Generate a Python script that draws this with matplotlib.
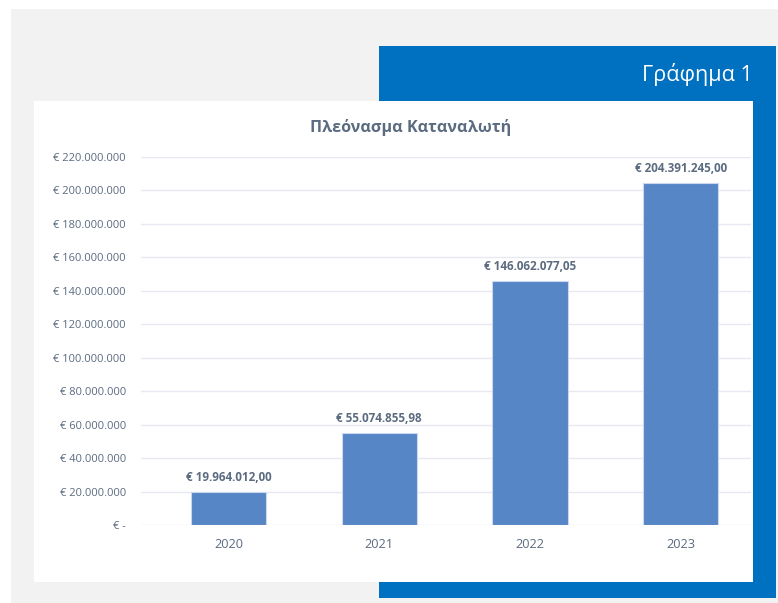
import matplotlib.pyplot as plt
from matplotlib.patches import Rectangle
from matplotlib.ticker import FuncFormatter

plt.rcParams["font.family"] = ["Open Sans", "DejaVu Sans"]

# Consumer surplus per year (EUR)
years = ["2020", "2021", "2022", "2023"]
values = [19964012.00, 55074855.98, 146062077.05, 204391245.00]
value_labels = ["€ 19.964.012,00", "€ 55.074.855,98",
                "€ 146.062.077,05", "€ 204.391.245,00"]
y_ticks = list(range(0, 220000001, 20000000))

INK = "#5b6b80"
BLUE = "#0070c0"
BAR = "#5686c6"

W, H = 778, 603
fig = plt.figure(figsize=(W / 100, H / 100), dpi=100)


def px(x0, y0, x1, y1):
    # pixel box -> figure fraction rect
    return (x0 / W, 1 - y1 / H, (x1 - x0) / W, (y1 - y0) / H)


# page background, blue frame and white chart panel
for box, col in [((11, 9, 778, 603), "#f2f2f2"),
                 ((379, 46, 776, 598), BLUE),
                 ((34, 101, 753, 582), "white")]:
    x, y, w, h = px(*box)
    fig.patches.append(Rectangle((x, y), w, h, transform=fig.transFigure,
                                 facecolor=col, edgecolor="none", zorder=-5))

fig.text(753 / W, 1 - 75 / H, "Γράφημα 1", ha="right", va="center",
         fontsize=15.5, color="white")
fig.text(411 / W, 1 - 127 / H, "Πλεόνασμα Καταναλωτή", ha="center",
         va="center", fontsize=11.6, weight="bold", color=INK)

ax = fig.add_axes(px(141, 157, 751, 525.3))
ax.set_zorder(2)
ax.set_facecolor("none")

xs = range(len(years))
ax.bar(xs, values, width=0.5, color=BAR, edgecolor="#cbd8ee",
       linewidth=0.8, zorder=2)

for x, v, lab in zip(xs, values, value_labels):
    ax.annotate(lab, (x, v), xytext=(0, 5.5), textcoords="offset points",
                ha="center", va="bottom", fontsize=8.4, weight="bold",
                color=INK)

ax.set_xlim(-0.581, 3.467)
ax.set_ylim(0, 220000000)
ax.set_yticks(y_ticks)


def euro(v, _):
    if v == 0:
        return "€ -"
    return "€ " + f"{int(v):,}".replace(",", ".")


ax.yaxis.set_major_formatter(FuncFormatter(euro))
ax.set_xticks(list(xs))
ax.set_xticklabels(years)
ax.tick_params(axis="y", length=0, pad=10.8, labelsize=8.0, labelcolor=INK)
ax.tick_params(axis="x", length=0, pad=9, labelsize=9.2, labelcolor=INK)

ax.grid(axis="y", color="#e6eaf0", linewidth=1.0, zorder=1)
ax.set_axisbelow(True)
for s in ax.spines.values():
    s.set_visible(False)

fig.savefig("out.png", dpi=100)
